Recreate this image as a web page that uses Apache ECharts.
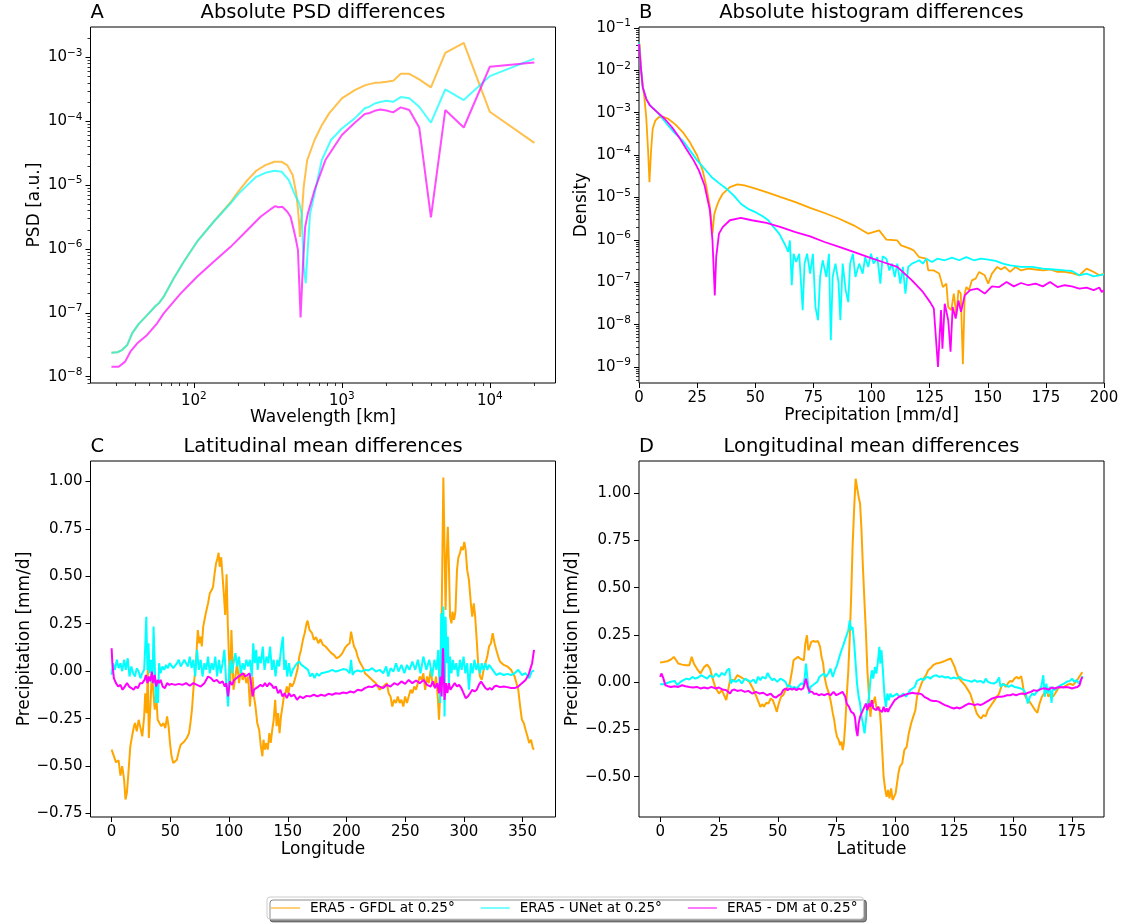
<!DOCTYPE html>
<html lang="en">
<head>
<meta charset="utf-8">
<title>ERA5 differences</title>
<script src="https://cdn.jsdelivr.net/npm/echarts@6/dist/echarts.min.js"></script>
<style>
  html, body { margin: 0; padding: 0; background: #fff; }
  #chart { width: 1137px; height: 924px; }
</style>
</head>
<body>
<div id="chart"></div>
<script>
// ---------- values ----------
var seriesNames = ['ERA5 - GFDL at 0.25°', 'ERA5 - UNet at 0.25°', 'ERA5 - DM at 0.25°'];

// A: absolute PSD differences, [wavelength km, PSD]
var psdGfdl = [[27.7,2.37e-8],[30.3,2.41e-8],[32.7,2.61e-8],[35.4,3.13e-8],[38.3,4.8e-8],[42.4,6.7e-8],[48.3,9.2e-8],[55,1.28e-7],[57.9,1.41e-7],[62.5,1.79e-7],[73.1,3.47e-7],[85.4,6.3e-7],[105,1.3e-6],[136,2.67e-6],[177,5.4e-6],[200,8.0e-6],[230,1.2e-5],[264,1.68e-5],[304,2.06e-5],[350,2.32e-5],[392,2.32e-5],[427,2.06e-5],[465,1.44e-5],[492,7.4e-6],[505,4.2e-6],[515,2.4e-6],[521,1.55e-6],[528,2.6e-6],[535,3.2e-6],[552,9.4e-6],[583,2.47e-5],[654,5.1e-5],[732,8.7e-5],[820,1.33e-4],[1000,2.29e-4],[1222,3.08e-4],[1429,3.65e-4],[1538,3.82e-4],[1667,4.0e-4],[1818,4.07e-4],[2000,4.16e-4],[2222,4.3e-4],[2500,5.55e-4],[2857,5.55e-4],[3333,4.53e-4],[4000,3.4e-4],[5000,1.18e-3],[6667,1.69e-3],[10000,1.41e-4],[20000,4.6e-5]];
var psdUnet = [[27.7,2.37e-8],[30.3,2.41e-8],[32.7,2.61e-8],[35.4,3.13e-8],[38.3,4.8e-8],[42.4,6.7e-8],[48.3,9.2e-8],[55,1.28e-7],[57.9,1.41e-7],[62.5,1.79e-7],[73.1,3.47e-7],[85.4,6.3e-7],[105,1.3e-6],[136,2.67e-6],[177,5.2e-6],[200,7.3e-6],[230,1.0e-5],[264,1.35e-5],[304,1.56e-5],[350,1.68e-5],[392,1.62e-5],[438,1.2e-5],[477,7.4e-6],[515,5.2e-6],[535,3.6e-6],[552,5.3e-7],[570,2.9e-7],[589,1.08e-6],[610,3.6e-6],[654,7.4e-6],[732,2.47e-5],[844,5.1e-5],[1000,7.7e-5],[1222,1.11e-4],[1429,1.6e-4],[1538,1.7e-4],[1667,1.9e-4],[1818,2.0e-4],[2000,2.1e-4],[2222,2.02e-4],[2500,2.4e-4],[2857,2.29e-4],[3333,1.69e-4],[4000,9.5e-5],[5000,3.15e-4],[6667,2.15e-4],[10000,5.1e-4],[20000,9.6e-4]];
var psdDm = [[27.7,1.43e-8],[31,1.43e-8],[34.3,1.72e-8],[37.2,2.46e-8],[41.4,3.33e-8],[48.3,4.5e-8],[56.4,6.86e-8],[62.5,9.8e-8],[81.2,2.0e-7],[105,3.68e-7],[136,6.3e-7],[177,1.08e-6],[230,1.98e-6],[282,3.2e-6],[330,4.2e-6],[355,4.7e-6],[372,4.5e-6],[396,4.6e-6],[428,3.83e-6],[450,3.2e-6],[473,1.98e-6],[490,1.38e-6],[505,9.6e-7],[526,8.5e-8],[545,5.3e-7],[565,2.23e-6],[589,3.6e-6],[654,8.4e-6],[774,2.47e-5],[1000,6.1e-5],[1222,9.5e-5],[1429,1.3e-4],[1538,1.35e-4],[1667,1.46e-4],[1818,1.53e-4],[2000,1.48e-4],[2222,1.38e-4],[2500,1.65e-4],[2857,1.5e-4],[3333,8.0e-5],[4000,3.13e-6],[5000,1.5e-4],[6667,8.0e-5],[10000,7.15e-4],[20000,8.35e-4]];

// B: absolute histogram differences, [precipitation mm/d, density]
var histGfdl = [[0.3,0.042],[0.8,0.0118],[1.6,4.4e-3],[2.3,2.3e-3],[3.1,7.9e-4],[3.9,1.29e-4],[4.5,2.3e-5],[5.2,1.29e-4],[5.9,4.2e-4],[7,6.5e-4],[8.6,7.9e-4],[10.2,8.1e-4],[12.5,7.2e-4],[15.6,5.3e-4],[18.8,3.5e-4],[21.9,2.0e-4],[25,9.8e-5],[27.4,4.3e-5],[29,1.76e-5],[30.5,5.9e-6],[31.6,1.4e-6],[32.4,4.1e-6],[33.3,5.9e-6],[34.4,8.5e-6],[36,1.22e-5],[39.1,1.76e-5],[42.3,2.03e-5],[45.4,1.92e-5],[50.1,1.61e-5],[54.8,1.34e-5],[61,1.02e-5],[67.3,7.8e-6],[73.6,5.7e-6],[79.8,4.3e-6],[86.1,3.15e-6],[92.3,2.2e-6],[98.6,1.4e-6],[103.3,1.67e-6],[106.4,1.01e-6],[111.1,9.7e-7],[112.7,7.4e-7],[116.6,6.2e-7],[118.2,5.6e-7],[120.5,3.9e-7],[123.6,3.6e-7],[124.4,1.9e-7],[126.8,1.9e-7],[129.1,1.6e-7],[130.7,7.7e-8],[132.2,9.3e-8],[133,2.6e-8],[134.3,2.2e-8],[135.4,5.4e-8],[136.5,1.66e-8],[137.4,6.5e-8],[138.4,5.4e-8],[139.3,1.16e-9],[140.1,5.4e-8],[140.8,7.7e-8],[141.9,6.5e-8],[143.2,1.11e-7],[144.8,1.22e-7],[146.3,1.75e-7],[148.7,1.46e-7],[150.2,9.3e-8],[151.8,1.6e-7],[154.1,2.3e-7],[155.7,2.0e-7],[157.3,2.3e-7],[159.6,1.75e-7],[162,2.3e-7],[164.3,1.9e-7],[167.4,2.1e-7],[170.6,2.0e-7],[173.7,1.9e-7],[176.8,2.0e-7],[180,1.75e-7],[183.1,1.75e-7],[186.2,1.65e-7],[189.4,1.46e-7],[192.5,2.1e-7],[195.6,1.75e-7],[198,1.46e-7],[200,1.6e-7]];
var histUnet = [[0,0.045],[0.8,0.0118],[1.6,4.0e-3],[3.1,2.12e-3],[4.7,1.48e-3],[7.8,1.03e-3],[10.2,7.2e-4],[12.5,5.0e-4],[15.6,3.2e-4],[18.8,2.2e-4],[21.9,1.29e-4],[25,7.5e-5],[28.2,4.75e-5],[31.3,3.0e-5],[34.4,2.18e-5],[37.6,1.61e-5],[40.7,1.12e-5],[43.8,7.1e-6],[46.9,5.4e-6],[50.1,4.5e-6],[53.2,3.6e-6],[55.6,2.9e-6],[57.9,2.0e-6],[60.3,1.4e-6],[62.6,8.1e-7],[64.2,5.2e-7],[64.9,9.7e-7],[65.7,8.5e-8],[66.5,4.7e-7],[67.6,3.0e-7],[68.9,4.7e-7],[70.4,2.2e-8],[71.2,2.75e-7],[72.3,4.7e-7],[73.6,1.6e-7],[74.8,4.7e-7],[75.9,2.6e-8],[77,1.27e-8],[77.9,1.33e-7],[79,3.3e-7],[80.6,1.33e-7],[81.7,4.7e-7],[82.5,4.3e-9],[83.3,1.33e-7],[84.5,2.75e-7],[85.8,1.01e-7],[86.6,1.27e-8],[87.6,2.75e-7],[88.9,6.5e-8],[90,3.4e-8],[90.8,2.75e-7],[92,4.7e-7],[93.1,1.33e-7],[94.7,2.75e-7],[96.2,1.6e-7],[97.3,3.9e-7],[98.6,2.3e-7],[99.8,4.7e-7],[100.9,2.75e-7],[102.5,3.9e-7],[103.8,9.3e-8],[104.8,4.1e-7],[106.4,3.6e-7],[107.7,1.9e-7],[108.8,2.75e-7],[110,1.33e-7],[111.1,2.75e-7],[112.4,9.3e-8],[113.5,2.3e-7],[114.6,5.4e-8],[115.8,2.3e-7],[117.4,2.75e-7],[119,3.0e-7],[120.5,3.3e-7],[122.1,2.75e-7],[123.6,3.6e-7],[126,3.0e-7],[128.3,3.6e-7],[131.5,3.3e-7],[134.6,3.8e-7],[137.7,3.3e-7],[140.8,3.9e-7],[144,3.3e-7],[147.1,3.6e-7],[150.2,3.4e-7],[153.4,3.2e-7],[156.5,2.75e-7],[159.6,2.5e-7],[164.3,2.3e-7],[169,2.3e-7],[173.7,2.1e-7],[178.4,2.0e-7],[183.1,1.9e-7],[186.2,1.84e-7],[189.4,1.46e-7],[192.5,1.6e-7],[195.6,1.38e-7],[200,1.54e-7]];
var histDm = [[0,0.042],[0.8,0.0118],[1.6,4.0e-3],[3.1,2.12e-3],[4.7,1.48e-3],[7.8,1.03e-3],[11,7.2e-4],[14.1,4.6e-4],[17.2,2.65e-4],[20.3,1.41e-4],[23.5,7.5e-5],[25.8,4.3e-5],[28.2,1.92e-5],[30.5,4.95e-6],[31.6,9.7e-7],[32.6,4.9e-8],[33.2,3.9e-7],[34.4,1.4e-6],[36,2.0e-6],[39.1,2.9e-6],[43.8,3.3e-6],[48.5,2.9e-6],[54.8,2.5e-6],[61,2.0e-6],[67.3,1.53e-6],[73.6,1.21e-6],[79.8,8.9e-7],[86.1,6.8e-7],[92.3,5.2e-7],[98.6,3.9e-7],[104.8,3.0e-7],[111.1,2.3e-7],[117.4,1.11e-7],[122.1,5.9e-8],[125.2,3.4e-8],[126.8,2.4e-8],[128.6,1.0e-9],[129.9,2.2e-8],[130.5,2.7e-9],[131.5,3.1e-8],[133,1.27e-8],[134,2.3e-9],[134.9,2.6e-8],[136.2,1.39e-8],[137.4,3.7e-8],[138.5,2.0e-8],[140.1,4.9e-8],[142.4,6.5e-8],[145.5,7.1e-8],[148.7,5.4e-8],[151.8,8.0e-8],[154.9,7.7e-8],[158.1,1.01e-7],[161.2,8.0e-8],[164.3,9.6e-8],[167.4,8.5e-8],[170.6,9.3e-8],[173.7,8.0e-8],[176.8,1.01e-7],[180,7.7e-8],[183.1,8.5e-8],[186.2,8.0e-8],[189.4,7.1e-8],[192.5,7.5e-8],[195.6,6.5e-8],[198,7.5e-8],[199,5.9e-8],[200,6.5e-8]];

// C: latitudinal mean differences, [longitude, mm/d]
var lonGfdl = [[0,-0.413],[3.7,-0.48],[5.9,-0.47],[7.5,-0.55],[9,-0.5],[10.6,-0.57],[11.8,-0.676],[13,-0.64],[14.3,-0.536],[15.9,-0.396],[17.4,-0.343],[19,-0.29],[19.9,-0.273],[21.4,-0.317],[23,-0.256],[24.6,-0.3],[26.1,-0.343],[27.7,-0.238],[28.6,-0.116],[29.8,-0.221],[30.8,0.007],[31.7,-0.352],[33,-0.186],[34.2,-0.011],[35.4,-0.098],[36.7,-0.203],[37.9,-0.116],[39.2,-0.256],[40.7,-0.273],[42.3,-0.29],[44.1,-0.273],[45.7,-0.3],[47.2,-0.238],[48.5,-0.29],[49.7,-0.378],[51,-0.448],[52.5,-0.483],[54.1,-0.487],[55.6,-0.466],[57.2,-0.422],[58.8,-0.387],[60.3,-0.382],[61.9,-0.37],[64,-0.352],[65.9,-0.326],[67.1,-0.273],[68.4,-0.203],[69.6,-0.098],[70.9,-0.011],[72.1,0.077],[73.4,0.217],[74.6,0.147],[75.8,0.182],[76.8,0.13],[78,0.235],[79.6,0.287],[80.8,0.322],[82.1,0.357],[83.6,0.41],[85.2,0.427],[86.4,0.445],[87.7,0.515],[88.9,0.567],[90.1,0.594],[91.1,0.624],[92,0.55],[93.3,0.6],[94.5,0.497],[95.7,0.392],[96.7,0.296],[97.9,0.511],[98.9,0.252],[100.1,0.042],[101,-0.063],[102,0.217],[103,0.042],[103.8,-0.098],[105.4,-0.028],[106.9,0.042],[108.5,-0.063],[110,0.007],[111.6,-0.046],[113.1,-0.011],[114.7,-0.063],[116.3,-0.028],[117.8,-0.186],[118.7,-0.098],[120,-0.028],[121.2,-0.133],[122.5,-0.186],[124,-0.273],[125.6,-0.308],[127.1,-0.396],[128.4,-0.448],[129.3,-0.361],[130.6,-0.413],[131.8,-0.378],[133,-0.413],[134.3,-0.326],[135.5,-0.378],[136.8,-0.308],[138,-0.256],[139.3,-0.151],[140.5,-0.29],[141.8,-0.221],[143,-0.326],[144.2,-0.238],[145.5,-0.186],[146.7,-0.133],[148,-0.116],[149.2,-0.081],[150.5,-0.116],[152,-0.063],[153.6,-0.081],[155.1,-0.063],[156.7,-0.028],[158.2,0.007],[159.8,0.077],[161.3,0.112],[162.9,0.165],[164.4,0.2],[166,0.252],[166.9,0.266],[168.5,0.217],[170.7,0.2],[172.2,0.165],[174.1,0.179],[176,0.147],[177.8,0.168],[180,0.138],[182.2,0.13],[184.6,0.112],[187.1,0.095],[189.3,0.086],[191.5,0.068],[194,0.077],[196.5,0.095],[198.6,0.121],[200.8,0.138],[202.7,0.147],[203.9,0.208],[205.2,0.165],[206.4,0.13],[208,0.112],[209.5,0.077],[211.1,0.051],[212.6,0.042],[214.2,0.016],[215.7,-0.011],[218.8,-0.028],[221.9,-0.046],[225,-0.063],[228.2,-0.098],[231.3,-0.081],[234.4,-0.063],[235.9,-0.116],[237.5,-0.133],[239,-0.186],[240.6,-0.151],[242.2,-0.168],[243.7,-0.133],[245.3,-0.168],[246.8,-0.151],[248.4,-0.186],[249.9,-0.133],[251.5,-0.168],[253,-0.133],[254.6,-0.098],[256.1,-0.116],[257.7,-0.081],[259.2,-0.098],[260.8,-0.063],[262.4,-0.028],[263.9,-0.046],[265.5,-0.011],[267,-0.098],[268.6,-0.028],[270.1,-0.063],[271.7,0.007],[273.2,-0.063],[274.8,-0.081],[276.3,-0.028],[277.9,-0.151],[278.8,-0.256],[279.7,-0.133],[280.7,0.112],[281.6,0.567],[282.5,1.02],[283.5,0.655],[284.4,0.322],[285.3,0.6],[286.3,0.76],[287.2,0.567],[288.2,0.287],[289.4,0.252],[290.3,0.314],[291.6,0.27],[292.8,0.314],[294.1,0.532],[295.3,0.6],[296.6,0.62],[297.8,0.655],[299.1,0.638],[300.3,0.681],[301.5,0.638],[302.8,0.532],[304.3,0.48],[305.9,0.357],[307.1,0.287],[308.4,0.357],[309.6,0.287],[310.9,0.165],[312.1,0.042],[313.7,-0.028],[315.2,-0.046],[316.8,0.007],[318.3,0.042],[319.9,0.077],[321.4,0.13],[323,0.147],[324.5,0.2],[326.1,0.147],[327.6,0.112],[329.2,0.077],[330.7,0.051],[333.9,0.033],[337,0.025],[340.1,0.007],[343.2,-0.028],[346.3,-0.098],[347.9,-0.186],[349.4,-0.256],[351,-0.273],[352.5,-0.308],[354.1,-0.343],[355.6,-0.378],[357.2,-0.361],[358.7,-0.405],[359.7,-0.413]];
var lonUnet = [[0,-0.02],[1.2,0.042],[2.8,0.007],[4.4,0.06],[5.9,0.016],[7.5,0.042],[9,0],[10.6,0.06],[12.1,0.007],[13.7,0.068],[15.2,-0.028],[16.8,0.025],[18.3,-0.011],[19.9,-0.028],[21.4,0.016],[23,-0.002],[24.6,-0.037],[26.1,-0.011],[27.7,0.007],[28.6,0.13],[29.5,0.287],[30.5,0.007],[31.4,0.147],[32.3,-0.011],[33.6,0.06],[34.8,-0.063],[35.7,0.235],[36.7,0.042],[37.6,-0.168],[38.5,-0.063],[39.5,-0.168],[40.4,0.042],[41.7,-0.011],[43.2,0.025],[44.8,0.007],[46.3,0.033],[47.9,0.016],[49.4,0.042],[51,0.033],[52.5,0.016],[54.1,0.025],[55.6,0.042],[57.2,0.06],[58.8,0.025],[60.3,0.042],[61.9,0.06],[63.4,0.042],[65,0.025],[66.5,0.077],[68.1,0.016],[69.6,0.06],[71.2,-0.028],[72.7,0.112],[74.3,0.007],[75.8,0.06],[77.4,-0.028],[79,0.042],[80.5,0.007],[82.1,0.077],[83.6,-0.011],[85.2,0.042],[86.7,0.007],[88.3,0.077],[89.8,-0.028],[91.4,0.06],[92.9,-0.011],[94.5,0.042],[96,0.112],[97.6,-0.063],[99.2,-0.186],[100.1,0.007],[101.3,0.06],[102.6,-0.011],[103.8,0.042],[105.4,0.095],[106.9,0.025],[108.5,0.077],[110,-0.011],[111.6,0.042],[113.1,0.007],[114.7,0.06],[116.3,0.025],[117.8,0.06],[119.4,-0.028],[120.6,0.147],[121.9,0.042],[123.1,0.112],[124.4,0.007],[125.6,0.077],[127.1,0.042],[128.7,0.13],[130.2,0.007],[131.8,0.077],[133.4,0.042],[134.9,0.13],[136.5,0.007],[138,0.06],[139.6,-0.028],[141.1,0.06],[142.7,0.025],[144.2,0.112],[145.8,0.182],[147,0.007],[148.3,0.06],[149.5,-0.028],[151.1,0.042],[152.6,-0.028],[154.2,0.007],[156,0.025],[157.9,0.042],[159.8,0.051],[161.6,0.033],[163.5,0.025],[165.4,0.016],[167.2,0.007],[169.1,-0.028],[171,-0.011],[172.8,-0.037],[174.7,-0.011],[176.6,-0.025],[178.4,-0.011],[181.5,-0.007],[184.6,-0.002],[187.8,0.007],[190.9,-0.002],[194,0.004],[197.1,0.011],[200.2,0.007],[202.7,-0.011],[203.9,0.06],[205.2,-0.02],[207,-0.002],[209.5,0.004],[212.6,-0.002],[215.7,0.007],[218.8,0.004],[221.9,0.016],[225,-0.002],[228.2,0.007],[231.3,-0.011],[233.8,0.025],[235.6,-0.028],[237.5,0.016],[240,-0.002],[242.2,0.042],[244.3,-0.002],[246.8,0.033],[249.3,-0.011],[251.5,0.033],[253.7,0.007],[256.1,0.051],[258.6,0.007],[260.8,0.06],[263,-0.011],[265.5,0.077],[268,0.007],[270.5,0.06],[273,-0.028],[274.8,0.06],[276.6,0.007],[278.2,0.112],[279.7,-0.168],[280.7,0.305],[281.6,0.007],[282.5,0.34],[283.5,-0.238],[284.4,0.287],[285.3,0.042],[286.3,0.182],[287.2,-0.063],[288.2,0.077],[289.4,-0.011],[290.7,0.06],[291.9,0.007],[293.5,0.042],[295,-0.028],[296.6,0.06],[298.1,0.007],[299.7,0.077],[301.2,-0.011],[302.8,0.042],[304.3,-0.098],[305.9,0.042],[307.4,-0.011],[309,0.06],[310.5,0.007],[312.1,0.042],[313.7,-0.011],[315.2,0.042],[316.8,0.007],[318.3,0.042],[319.9,0.007],[321.4,0.033],[324.5,0.007],[327.6,-0.02],[330.7,-0.011],[333.9,-0.02],[337,-0.014],[340.1,-0.02],[343.2,-0.011],[346.3,0.007],[349.4,-0.02],[352.5,-0.011],[355.6,-0.037],[357.8,-0.002],[359.7,0.004]];
var lonDm = [[0,0.121],[0.6,0.042],[1.9,-0.037],[3.7,-0.063],[5.6,-0.081],[7.5,-0.072],[9.3,-0.098],[11.2,-0.081],[13.1,-0.063],[14.9,-0.081],[16.8,-0.089],[18.7,-0.098],[20.5,-0.081],[22.4,-0.089],[24.2,-0.063],[26.1,-0.063],[28,-0.046],[29.2,-0.02],[30.5,-0.063],[31.7,-0.028],[33,-0.054],[34.2,-0.002],[35.4,-0.063],[36.7,-0.02],[37.9,-0.081],[39.2,-0.046],[40.4,-0.063],[41.7,-0.046],[43.5,-0.081],[45.4,-0.089],[47.2,-0.063],[49.1,-0.072],[51,-0.067],[54.1,-0.072],[57.2,-0.067],[60.3,-0.072],[63.4,-0.063],[66.5,-0.077],[69.6,-0.063],[72.7,-0.072],[75.8,-0.081],[79,-0.063],[82.1,-0.028],[84.6,-0.037],[87,-0.054],[89.5,-0.046],[92,-0.063],[94.5,-0.054],[96.4,-0.081],[97.6,-0.063],[99.2,-0.133],[100.7,-0.054],[102.6,-0.072],[104.4,-0.046],[106.3,-0.037],[108.2,-0.028],[110,-0.02],[111.9,-0.011],[113.8,-0.028],[115.6,-0.02],[117.5,-0.011],[118.7,-0.063],[120,-0.133],[121.2,-0.098],[123.1,-0.089],[125,-0.081],[126.8,-0.072],[128.7,-0.081],[130.6,-0.063],[132.4,-0.081],[134.3,-0.063],[136.2,-0.072],[138,-0.089],[139.9,-0.081],[141.8,-0.116],[143.7,-0.098],[145.5,-0.133],[147.3,-0.116],[149.2,-0.142],[151.1,-0.116],[152.9,-0.133],[155.4,-0.124],[157.9,-0.151],[160.4,-0.133],[162.9,-0.142],[166,-0.13],[169.1,-0.133],[172.2,-0.124],[175.3,-0.133],[178.4,-0.124],[181.5,-0.13],[184.6,-0.119],[187.8,-0.124],[190.9,-0.116],[194,-0.119],[197.1,-0.112],[200.2,-0.116],[203.3,-0.107],[206.4,-0.112],[209.5,-0.098],[212.6,-0.102],[215.7,-0.089],[218.8,-0.081],[221.9,-0.084],[225,-0.072],[228.2,-0.081],[231.3,-0.089],[234.4,-0.072],[237.5,-0.081],[240.6,-0.063],[243.7,-0.072],[246.8,-0.054],[249.9,-0.067],[253,-0.046],[256.1,-0.063],[259.2,-0.049],[262.4,-0.063],[265.5,-0.046],[268.6,-0.072],[271.7,-0.081],[273.5,-0.054],[275.4,-0.089],[277.3,-0.063],[278.8,-0.116],[280,-0.028],[281,-0.133],[282.2,0.121],[283.5,-0.151],[284.7,-0.063],[285.9,-0.116],[287.2,-0.063],[288.5,-0.098],[290.3,-0.081],[292.2,-0.063],[294.1,-0.081],[295.9,-0.072],[297.8,-0.089],[299.7,-0.116],[301.5,-0.142],[303.4,-0.133],[305.3,-0.116],[307.1,-0.098],[309,-0.107],[310.9,-0.098],[312.7,-0.072],[314.6,-0.054],[316.5,-0.072],[318.3,-0.089],[320.2,-0.098],[322.1,-0.089],[323.9,-0.098],[325.8,-0.081],[327.6,-0.077],[330.7,-0.084],[333.9,-0.081],[337,-0.084],[340.1,-0.089],[343.2,-0.089],[346.3,-0.081],[349.4,-0.063],[352.5,-0.046],[355,-0.02],[356.8,0.016],[358.1,0.042],[359.7,0.112]];

// D: longitudinal mean differences, [latitude, mm/d]
var latGfdl = [[0,0.104],[1.4,0.107],[3,0.111],[4.6,0.12],[5.8,0.134],[6.8,0.116],[7.7,0.099],[9.3,0.093],[10.8,0.09],[12.4,0.09],[13.4,0.134],[14.3,0.099],[15.6,0.072],[17.1,0.046],[18.7,0.081],[20,0.093],[21.2,0.072],[22.1,0.028],[23.4,-0.025],[25,-0.06],[26.2,-0.042],[27.2,-0.069],[28.1,-0.095],[28.9,-0.042],[29.7,0.011],[30.5,0.019],[31.6,0.011],[32.8,0.037],[34.1,0.028],[35.3,0.019],[36.6,0.014],[37.9,0.002],[39.1,-0.025],[40.4,-0.06],[41.5,-0.095],[42.6,-0.13],[43.5,-0.116],[44.1,-0.13],[45.1,-0.109],[46,-0.113],[47,-0.086],[47.9,-0.095],[48.9,-0.13],[49.6,-0.157],[50.4,-0.113],[51.4,-0.077],[52.3,-0.069],[53.3,-0.042],[54.2,-0.025],[55.1,-0.007],[56.1,0.063],[56.7,0.116],[57.6,0.125],[58.6,0.134],[59.5,0.125],[60.3,0.134],[61.1,0.116],[61.7,0.204],[62.4,0.248],[63,0.169],[63.6,0.187],[64.2,0.213],[65.2,0.218],[66.1,0.213],[67.1,0.218],[68,0.187],[68.6,0.134],[69.3,0.099],[69.9,0.028],[70.8,-0.025],[71.8,-0.06],[72.7,-0.113],[73.4,-0.165],[74,-0.2],[74.6,-0.254],[75.2,-0.289],[75.9,-0.306],[76.5,-0.333],[77.1,-0.315],[77.6,-0.359],[78.1,-0.324],[78.7,-0.218],[79.3,-0.077],[80,0.063],[80.6,0.239],[81.2,0.451],[81.8,0.715],[82.5,0.926],[83.1,1.076],[83.7,1.081],[84.4,0.979],[85,0.944],[85.6,0.803],[86.2,0.609],[86.9,0.415],[87.5,0.257],[88.1,0.063],[88.8,-0.077],[89.4,-0.183],[90,-0.095],[90.6,-0.113],[91.3,-0.077],[91.9,-0.13],[92.5,-0.148],[93.2,-0.13],[93.8,-0.218],[94.4,-0.359],[95,-0.5],[95.7,-0.57],[96.3,-0.606],[96.9,-0.57],[97.5,-0.614],[98.2,-0.562],[98.8,-0.623],[99.4,-0.614],[100.1,-0.588],[100.7,-0.535],[101.3,-0.482],[101.9,-0.447],[102.9,-0.43],[103.8,-0.359],[104.8,-0.342],[105.7,-0.271],[106.7,-0.218],[107.6,-0.183],[108.5,-0.148],[109.2,-0.077],[110.1,-0.042],[111.1,-0.007],[112,0.019],[113,0.037],[113.9,0.063],[114.8,0.072],[116.1,0.09],[117.3,0.099],[118.6,0.102],[119.9,0.107],[121.1,0.113],[122.4,0.12],[123.6,0.125],[124.3,0.116],[125.2,0.081],[126.1,0.046],[127.1,0.019],[128.3,0.002],[129.6,-0.016],[130.9,-0.042],[131.8,-0.06],[132.7,-0.095],[133.7,-0.13],[134.6,-0.165],[135.6,-0.183],[136.5,-0.192],[137.4,-0.174],[138.4,-0.18],[139.3,-0.148],[140.3,-0.13],[141.2,-0.113],[142.2,-0.095],[143.1,-0.077],[144.1,-0.06],[145,-0.025],[145.9,-0.007],[146.9,-0.025],[147.8,-0.007],[148.8,0.007],[149.7,0.002],[150.6,0.019],[151.6,0.028],[152.5,0.019],[153.5,0.032],[154.1,-0.007],[154.7,-0.06],[155.7,-0.086],[156.6,-0.095],[157.6,-0.113],[158.5,-0.13],[159.4,-0.148],[160.4,-0.162],[161.3,-0.113],[162.3,-0.077],[163.2,-0.06],[164.2,-0.042],[165.1,-0.077],[166,-0.06],[167,-0.077],[167.9,-0.06],[169.2,-0.033],[170.4,-0.025],[171.7,-0.025],[172.9,-0.016],[174.2,-0.007],[175.5,-0.016],[176.7,0.002],[177.7,0.019],[178.6,0.037],[179.5,0.053]];
var latUnet = [[0,-0.011],[1.4,-0.011],[3,-0.004],[4.6,0.002],[6.1,0.007],[7.4,-0.016],[8.6,0.002],[9.9,0.011],[11.2,0.019],[12.4,0.014],[13.7,0.028],[14.9,0.019],[16.2,0.025],[17.4,0.037],[18.7,0.028],[20,0.019],[21.2,0.037],[22.5,0.025],[23.7,0.046],[25,0.028],[26.2,0.049],[27.5,0.037],[28.4,0.063],[29.4,0.072],[30,-0.007],[30.9,0.011],[32.2,0.002],[33.5,0.014],[34.7,-0.007],[36,0.019],[37.2,0.011],[38.5,0.002],[39.7,0.014],[40.7,-0.007],[41.6,0.028],[42.6,0.011],[43.5,0.028],[44.8,0.019],[45.7,0.049],[46.7,0.025],[47.6,0.011],[48.5,0.019],[49.8,0.002],[51.1,0.019],[52.3,0.011],[53.3,0.002],[54.2,-0.025],[55.1,-0.016],[56.1,-0.033],[57,-0.025],[58,-0.033],[58.9,-0.021],[59.9,-0.007],[60.8,-0.011],[61.4,0.019],[62,0.099],[62.7,0.011],[63.3,-0.06],[63.9,-0.025],[64.9,-0.016],[65.8,-0.007],[66.8,0.002],[67.7,0.028],[68.6,0.037],[69.6,0.046],[70.5,0.028],[71.5,0.046],[72.4,0.072],[73.4,0.028],[74.3,0.063],[75.2,0.09],[76.2,0.134],[77.1,0.169],[78.1,0.204],[79,0.239],[80,0.275],[80.6,0.327],[81.2,0.275],[81.8,0.292],[82.5,0.204],[83.1,0.099],[83.7,-0.007],[84.4,-0.077],[85,-0.113],[85.6,-0.183],[86.2,-0.218],[86.9,-0.271],[87.5,-0.2],[88.1,-0.13],[88.8,-0.077],[89.4,0.011],[90,0.063],[90.6,0.019],[91.3,0.081],[91.9,0.046],[92.5,0.099],[93.2,0.187],[93.6,0.099],[94.1,0.169],[94.7,0.063],[95.4,-0.077],[96,-0.13],[96.6,-0.06],[97.2,-0.095],[97.9,-0.06],[98.5,-0.077],[99.1,-0.086],[99.7,-0.069],[100.7,-0.06],[101.6,-0.077],[102.6,-0.069],[103.5,-0.06],[104.5,-0.077],[105.4,-0.06],[106.3,-0.042],[107.3,-0.033],[108.2,-0.025],[109.2,0.007],[110.1,0.014],[111.1,0.019],[112,0.011],[113,0.025],[113.9,0.028],[114.8,0.019],[116.1,0.032],[117.3,0.037],[118.6,0.028],[119.9,0.032],[121.1,0.025],[122.4,0.028],[123.6,0.019],[124.9,0.025],[126.1,0.019],[127.4,0.028],[128.7,0.014],[129.9,0.011],[131.2,0.007],[132.4,0.002],[133.7,0.011],[134.9,0.002],[136.2,0.007],[137.5,-0.004],[138.4,0.019],[139.3,0.002],[140.6,-0.004],[141.9,-0.007],[143.1,0.002],[144.1,0.025],[144.7,-0.025],[145.6,-0.011],[146.9,-0.016],[148.1,-0.025],[149.4,-0.016],[150.6,-0.025],[151.9,-0.028],[153.2,-0.033],[154.4,-0.039],[155.4,-0.06],[156.3,-0.113],[157.2,-0.077],[158.2,-0.06],[159.1,-0.069],[160.1,-0.051],[161,-0.042],[162,-0.025],[162.9,0.037],[163.5,-0.077],[164.2,-0.007],[164.8,-0.06],[165.7,-0.025],[166.4,-0.109],[167,-0.025],[167.9,-0.042],[169.2,-0.025],[170.4,-0.016],[171.7,-0.007],[172.9,0.002],[174.2,0.007],[175.1,0.019],[176.1,0.002],[177,0.011],[178,-0.007],[178.9,0.014],[179.5,0.032]];
var latDm = [[0,0.028],[0.6,0.046],[1.4,0.019],[2.2,-0.016],[3.3,-0.021],[4.6,-0.025],[6.1,-0.021],[7.7,-0.025],[9.3,-0.016],[10.8,-0.021],[12.4,-0.025],[14,-0.028],[15.6,-0.025],[17.1,-0.033],[18.7,-0.028],[20.3,-0.033],[21.8,-0.025],[23.4,-0.033],[25,-0.028],[26.5,-0.039],[28.1,-0.042],[29.7,-0.06],[30.6,-0.042],[31.6,-0.039],[32.8,-0.046],[34.4,-0.042],[36,-0.051],[37.5,-0.046],[39.1,-0.06],[40.7,-0.051],[42.3,-0.06],[43.8,-0.056],[45.4,-0.069],[47,-0.06],[48.2,-0.077],[49.3,-0.081],[50.4,-0.069],[51.4,-0.063],[52.3,-0.042],[53.3,-0.033],[54.2,-0.042],[55.1,-0.033],[56.1,-0.039],[57,-0.033],[58,-0.042],[58.9,-0.033],[59.9,-0.039],[60.8,-0.033],[61.4,-0.007],[62,0.019],[62.7,-0.025],[63.6,-0.051],[64.6,-0.051],[65.5,-0.063],[66.4,-0.06],[67.4,-0.069],[68.6,-0.063],[69.9,-0.069],[71.2,-0.06],[72.4,-0.069],[73.7,-0.051],[74.9,-0.069],[76.2,-0.06],[77.5,-0.051],[78.1,-0.042],[78.7,-0.077],[79.3,-0.113],[80.3,-0.13],[81.2,-0.157],[82.2,-0.165],[82.8,-0.183],[83.4,-0.254],[83.9,-0.285],[84.4,-0.218],[85,-0.183],[85.6,-0.165],[86.2,-0.148],[86.9,-0.139],[87.5,-0.113],[88.1,-0.148],[88.8,-0.113],[89.4,-0.13],[90,-0.095],[90.6,-0.139],[91.3,-0.13],[91.9,-0.148],[92.5,-0.13],[93.2,-0.148],[93.8,-0.139],[94.4,-0.157],[95,-0.13],[95.7,-0.157],[96.3,-0.139],[96.9,-0.157],[97.5,-0.139],[98.2,-0.13],[98.8,-0.113],[99.7,-0.095],[100.7,-0.086],[101.6,-0.077],[102.6,-0.074],[103.5,-0.069],[104.8,-0.063],[106,-0.06],[107.3,-0.056],[108.5,-0.06],[109.8,-0.06],[111.1,-0.063],[112.3,-0.077],[113.6,-0.086],[114.8,-0.095],[116.1,-0.099],[117.3,-0.099],[118.6,-0.104],[119.9,-0.113],[121.1,-0.121],[122.4,-0.127],[123.6,-0.134],[124.9,-0.139],[126.1,-0.134],[127.4,-0.139],[128.7,-0.13],[129.9,-0.121],[131.2,-0.113],[132.4,-0.116],[133.7,-0.121],[134.9,-0.116],[136.2,-0.121],[137.5,-0.113],[138.7,-0.104],[140,-0.095],[141.2,-0.086],[142.5,-0.081],[143.7,-0.077],[145,-0.077],[146.2,-0.074],[147.5,-0.069],[148.8,-0.069],[150,-0.063],[151.3,-0.069],[152.6,-0.063],[153.8,-0.06],[155.1,-0.063],[156.4,-0.056],[157.6,-0.051],[158.9,-0.042],[160.1,-0.046],[161.4,-0.039],[162.6,-0.033],[163.8,-0.033],[165.1,-0.039],[166.4,-0.028],[167.6,-0.033],[168.9,-0.028],[170.1,-0.025],[171.4,-0.028],[172.6,-0.025],[173.9,-0.028],[175.1,-0.033],[176.4,-0.028],[177.4,-0.025],[178.3,-0.016],[178.9,0.011],[179.5,0.028]];

// tick values
var psdTicksX = [100, 1000, 10000];
var psdTicksY = [1e-8, 1e-7, 1e-6, 1e-5, 1e-4, 1e-3];
var psdMinorX = [30,40,50,60,70,80,90,200,300,400,500,600,700,800,900,2000,3000,4000,5000,6000,7000,8000,9000,20000];
var psdMinorY = [8e-9,9e-9,2e-8,3e-8,4e-8,5e-8,6e-8,7e-8,8e-8,9e-8,2e-7,3e-7,4e-7,5e-7,6e-7,7e-7,8e-7,9e-7,2e-6,3e-6,4e-6,5e-6,6e-6,7e-6,8e-6,9e-6,2e-5,3e-5,4e-5,5e-5,6e-5,7e-5,8e-5,9e-5,2e-4,3e-4,4e-4,5e-4,6e-4,7e-4,8e-4,9e-4,2e-3];
var histTicksX = [0, 25, 50, 75, 100, 125, 150, 175, 200];
var histTicksY = [1e-9, 1e-8, 1e-7, 1e-6, 1e-5, 1e-4, 1e-3, 1e-2, 1e-1];
var histMinorY = [5e-10,6e-10,7e-10,8e-10,9e-10,2e-9,3e-9,4e-9,5e-9,6e-9,7e-9,8e-9,9e-9,2e-8,3e-8,4e-8,5e-8,6e-8,7e-8,8e-8,9e-8,2e-7,3e-7,4e-7,5e-7,6e-7,7e-7,8e-7,9e-7,2e-6,3e-6,4e-6,5e-6,6e-6,7e-6,8e-6,9e-6,2e-5,3e-5,4e-5,5e-5,6e-5,7e-5,8e-5,9e-5,2e-4,3e-4,4e-4,5e-4,6e-4,7e-4,8e-4,9e-4,2e-3,3e-3,4e-3,5e-3,6e-3,7e-3,8e-3,9e-3,2e-2,3e-2,4e-2,5e-2,6e-2,7e-2,8e-2,9e-2];
var lonTicksX = [0, 50, 100, 150, 200, 250, 300, 350];
var lonTicksY = [-0.75, -0.5, -0.25, 0, 0.25, 0.5, 0.75, 1.0];
var latTicksX = [0, 25, 50, 75, 100, 125, 150, 175];
var latTicksY = [-0.5, -0.25, 0, 0.25, 0.5, 0.75, 1.0];

// ---------- chart ----------
var FONT = '"DejaVu Sans", sans-serif';
var solid = ['#ffa500', '#00ffff', '#ff00ff'];
var faded = ['rgba(255,165,0,0.7)', 'rgba(0,255,255,0.7)', 'rgba(255,0,255,0.7)'];

var grids = [
    { left: 90.5, top: 27, width: 465, height: 356 },
    { left: 639, top: 27, width: 465, height: 356 },
    { left: 90.5, top: 461, width: 465, height: 356 },
    { left: 639, top: 461, width: 465, height: 356 }
];

function powLabel(v) {
    var e = Math.round(Math.log10(v));
    return '{b|10}{s|' + String(e).replace('-', '\u2212') + '}';
}
function numLabel(v) { return String(v); }
function fixedLabel(v) { return v.toFixed(2).replace('-', '\u2212'); }

function axis(gridIndex, type, min, max, ticks, formatter, name, nameGap) {
    return {
        type: type, gridIndex: gridIndex, min: min, max: max,
        name: name, nameLocation: 'middle', nameGap: nameGap,
        nameTextStyle: { fontSize: 17, color: '#000', fontFamily: FONT },
        axisLine: { show: false, onZero: false },
        splitLine: { show: false },
        axisTick: { show: true, customValues: ticks, length: 5, lineStyle: { color: '#000', width: 1 } },
        axisLabel: {
            customValues: ticks, formatter: formatter, fontSize: 15, color: '#000', fontFamily: FONT, margin: 8,
            rich: {
                b: { fontSize: 15, lineHeight: 20, color: '#000', fontFamily: FONT },
                s: { fontSize: 10.5, lineHeight: 11, verticalAlign: 'top', color: '#000', fontFamily: FONT }
            }
        }
    };
}
function minorAxis(gridIndex, min, max, ticks, position) {
    return {
        type: 'log', gridIndex: gridIndex, min: min, max: max, position: position,
        axisLine: { show: false, onZero: false }, splitLine: { show: false }, axisLabel: { show: false },
        axisTick: { show: true, customValues: ticks, length: 3, lineStyle: { color: '#000', width: 0.8 } }
    };
}
function line(k, colors, xi, yi, data) {
    return {
        type: 'line', name: seriesNames[k], xAxisIndex: xi, yAxisIndex: yi, data: data,
        color: colors[k], showSymbol: false, symbol: 'none', smooth: false,
        lineStyle: { color: colors[k], width: xi === 1 ? 1.8 : 2 },
        emphasis: { disabled: true }
    };
}
function txt(x, y, text, align) {
    return { type: 'text', x: x, y: y,
             style: { text: text, font: '19.5px ' + FONT, fill: '#000', textAlign: align, textVerticalAlign: 'top' } };
}

var chart = echarts.init(document.getElementById('chart'));
chart.setOption({
    animation: false,
    backgroundColor: '#fff',
    grid: grids.map(function (g) {
        return Object.assign({ show: true, borderColor: '#000', borderWidth: 1, backgroundColor: 'transparent' }, g);
    }),
    xAxis: [
        axis(0, 'log', 20, 27800, psdTicksX, powLabel, 'Wavelength [km]', 24),
        axis(1, 'value', 0, 200, histTicksX, numLabel, 'Precipitation [mm/d]', 24),
        axis(2, 'value', -18, 378, lonTicksX, numLabel, 'Longitude', 24),
        axis(3, 'value', -9, 188.7, latTicksX, numLabel, 'Latitude', 24),
        minorAxis(0, 20, 27800, psdMinorX, 'bottom')
    ],
    yAxis: [
        axis(0, 'log', 7.96e-9, 3.0e-3, psdTicksY, powLabel, 'PSD [a.u.]', 47),
        axis(1, 'log', 4.2e-10, 0.105, histTicksY, powLabel, 'Density', 49),
        axis(2, 'value', -0.768, 1.107, lonTicksY, fixedLabel, 'Precipitation [mm/d]', 57),
        axis(3, 'value', -0.713, 1.17, latTicksY, fixedLabel, 'Precipitation [mm/d]', 57),
        minorAxis(0, 7.96e-9, 3.0e-3, psdMinorY, 'left'),
        minorAxis(1, 4.2e-10, 0.105, histMinorY, 'left')
    ],
    legend: {
        data: seriesNames, left: 267, top: 897, orient: 'horizontal',
        icon: 'rect', itemWidth: 29, itemHeight: 1.5, itemGap: 26,
        padding: [4, 6, 4, 4], selectedMode: false,
        backgroundColor: '#fff', borderColor: '#cccccc', borderWidth: 1, borderRadius: 3,
        shadowColor: 'rgba(0,0,0,0.45)', shadowBlur: 0, shadowOffsetX: 3, shadowOffsetY: 3,
        formatter: function (name) { return '{g|}' + name; },
        textStyle: { fontSize: 13.6, color: '#000', fontFamily: FONT, rich: { g: { width: 5 } } }
    },
    graphic: [
        txt(90.5, 3, 'A', 'left'), txt(323, 3, 'Absolute PSD differences', 'center'),
        txt(639, 3, 'B', 'left'), txt(871.5, 3, 'Absolute histogram differences', 'center'),
        txt(90.5, 437, 'C', 'left'), txt(323, 437, 'Latitudinal mean differences', 'center'),
        txt(639, 437, 'D', 'left'), txt(871.5, 437, 'Longitudinal mean differences', 'center')
    ],
    series: [
        line(0, faded, 0, 0, psdGfdl), line(1, faded, 0, 0, psdUnet), line(2, faded, 0, 0, psdDm),
        line(0, solid, 1, 1, histGfdl), line(1, solid, 1, 1, histUnet), line(2, solid, 1, 1, histDm),
        line(0, solid, 2, 2, lonGfdl), line(1, solid, 2, 2, lonUnet), line(2, solid, 2, 2, lonDm),
        line(0, solid, 3, 3, latGfdl), line(1, solid, 3, 3, latUnet), line(2, solid, 3, 3, latDm)
    ]
});
</script>
</body>
</html>
